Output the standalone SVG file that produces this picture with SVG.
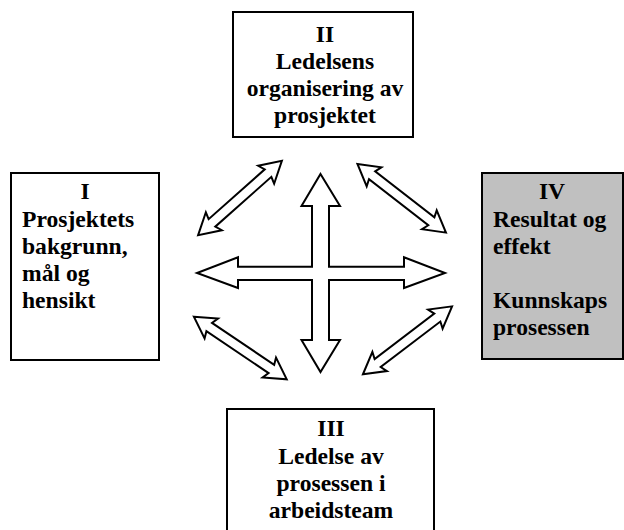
<svg xmlns="http://www.w3.org/2000/svg" xmlns:xlink="http://www.w3.org/1999/xlink" width="624" height="530" viewBox="0 0 624 530">
<style>
.box{fill:#ffffff;stroke:#000000;stroke-width:2}
.gray{fill:#c0c0c0}
.t{font-family:"Liberation Serif","Times New Roman",serif;font-weight:bold;font-size:23.6px;fill:#000000}
.c{text-anchor:middle}
.arr{fill:#ffffff;stroke:#000000;stroke-width:2;stroke-linejoin:miter}
</style>
<defs>
<path id="darrow" class="arr" d="M -56,0 L -35,-12 L -37.5,-5 L 37.5,-5 L 35,-12 L 56,0 L 35,12 L 37.5,5 L -37.5,5 L -35,12 Z"/>
</defs>
<rect width="624" height="530" fill="#ffffff"/>
<g id="connectors">
<path class="arr" d="M 320.5,174 L 340,206 L 329,206 L 329,266.7 L 404,266.7 L 404,257.3 L 445,273 L 404,288 L 404,280 L 329,280 L 329,340 L 340,340 L 320.5,372 L 301.5,340 L 312,340 L 312,280 L 238,280 L 238,288 L 197,273 L 238,257.3 L 238,266.7 L 312,266.7 L 312,206 L 301.5,206 Z"/>
<use xlink:href="#darrow" href="#darrow" transform="translate(240,198) rotate(-41.6)"/>
<use xlink:href="#darrow" href="#darrow" transform="translate(401.7,198.3) rotate(37.8)"/>
<use xlink:href="#darrow" href="#darrow" transform="translate(240.3,348) rotate(34)"/>
<use xlink:href="#darrow" href="#darrow" transform="translate(407.5,340.3) rotate(-37.3)"/>
</g>
<g id="node-II">
<rect class="box" x="233" y="12" width="180" height="125"/>
<text class="t c" x="325" y="42">II</text>
<text class="t c" x="325" y="69">Ledelsens</text>
<text class="t c" x="325" y="96">organisering av</text>
<text class="t c" x="325" y="123">prosjektet</text>
</g>
<g id="node-I">
<rect class="box" x="11" y="173" width="148" height="187"/>
<text class="t c" x="85" y="199">I</text>
<text class="t" x="22" y="226.5">Prosjektets</text>
<text class="t" x="22" y="254">bakgrunn,</text>
<text class="t" x="22" y="281">mål og</text>
<text class="t" x="22" y="308">hensikt</text>
</g>
<g id="node-IV">
<rect class="box gray" x="482" y="173" width="141" height="186"/>
<text class="t c" x="552" y="199">IV</text>
<text class="t" x="493" y="226.5">Resultat og</text>
<text class="t" x="493" y="254">effekt</text>
<text class="t" x="493" y="308">Kunnskaps</text>
<text class="t" x="493" y="335">prosessen</text>
</g>
<g id="node-III">
<rect class="box" x="227" y="409" width="207" height="140"/>
<text class="t c" x="331" y="436">III</text>
<text class="t c" x="331" y="463.5">Ledelse av</text>
<text class="t c" x="331" y="491">prosessen i</text>
<text class="t c" x="331" y="518">arbeidsteam</text>
</g>
</svg>
